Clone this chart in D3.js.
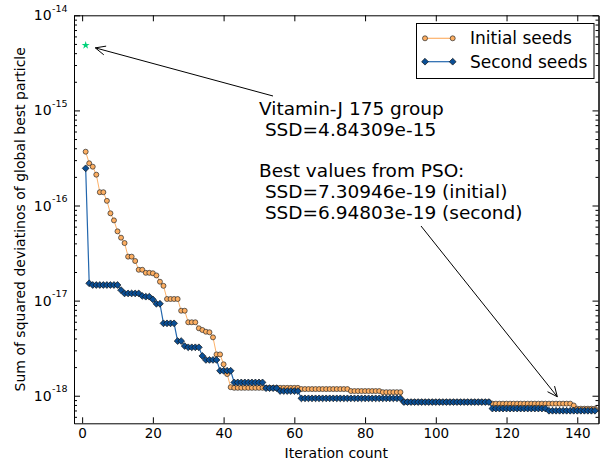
<!DOCTYPE html>
<html>
<head>
<meta charset="utf-8">
<script src="https://cdn.jsdelivr.net/npm/d3@7"></script>
<style>
  html, body { margin: 0; padding: 0; background: #fff; }
  svg { display: block; font-family: "DejaVu Sans", sans-serif; }
</style>
</head>
<body>
<svg id="chart" width="600" height="466"></svg>
<script>
// ---------------- DATA ----------------
const iterations = [
  1,2,3,4,5,6,7,8,9,10,11,12,13,14,15,16,17,18,19,20,
  21,22,23,24,25,26,27,28,29,30,31,32,33,34,35,36,37,38,39,40,
  41,42,43,44,45,46,47,48,49,50,51,52,53,54,55,56,57,58,59,60,
  61,62,63,64,65,66,67,68,69,70,71,72,73,74,75,76,77,78,79,80,
  81,82,83,84,85,86,87,88,89,90,91,92,93,94,95,96,97,98,99,100,
  101,102,103,104,105,106,107,108,109,110,111,112,113,114,115,116,117,118,119,120,
  121,122,123,124,125,126,127,128,129,130,131,132,133,134,135,136,137,138,139,140,
  141,142,143,144,145
];

const initialSeeds = [
  3.68e-16, 2.78e-16, 2.56e-16, 2.11e-16, 1.38e-16, 1.38e-16, 1.12e-16, 8.28e-17, 6.98e-17, 5.35e-17,
  4.59e-17, 4.03e-17, 2.90e-17, 2.90e-17, 2.61e-17, 2.11e-17, 2.11e-17, 1.96e-17, 1.96e-17, 1.94e-17,
  1.84e-17, 1.58e-17, 1.43e-17, 1.04e-17, 1.04e-17, 1.04e-17, 1.04e-17, 7.83e-18, 7.83e-18, 5.92e-18,
  5.92e-18, 5.92e-18, 5.12e-18, 4.91e-18, 4.71e-18, 4.65e-18, 4.11e-18, 2.72e-18, 2.72e-18, 2.14e-18,
  1.69e-18, 1.23e-18, 1.21e-18, 1.21e-18, 1.21e-18, 1.21e-18, 1.21e-18, 1.21e-18, 1.21e-18, 1.21e-18,
  1.21e-18, 1.21e-18, 1.21e-18, 1.21e-18, 1.21e-18, 1.21e-18, 1.21e-18, 1.21e-18, 1.21e-18, 1.21e-18,
  1.21e-18, 1.175e-18, 1.175e-18, 1.175e-18, 1.175e-18, 1.175e-18, 1.175e-18, 1.175e-18, 1.175e-18, 1.175e-18,
  1.175e-18, 1.175e-18, 1.175e-18, 1.175e-18, 1.175e-18, 1.12e-18, 1.12e-18, 1.12e-18, 1.12e-18, 1.12e-18,
  1.12e-18, 1.12e-18, 1.12e-18, 1.12e-18, 1.09e-18, 1.09e-18, 1.09e-18, 1.09e-18, 1.09e-18, 1.09e-18,
  8.60e-19, 8.60e-19, 8.60e-19, 8.60e-19, 8.60e-19, 8.60e-19, 8.60e-19, 8.60e-19, 8.60e-19, 8.60e-19,
  8.60e-19, 8.60e-19, 8.60e-19, 8.60e-19, 8.60e-19, 8.60e-19, 8.60e-19, 8.60e-19, 8.60e-19, 8.60e-19,
  8.60e-19, 8.60e-19, 8.60e-19, 8.60e-19, 8.60e-19, 8.26e-19, 8.26e-19, 8.26e-19, 8.26e-19, 8.26e-19,
  8.26e-19, 8.26e-19, 8.26e-19, 8.26e-19, 8.26e-19, 8.26e-19, 8.26e-19, 8.26e-19, 8.26e-19, 8.26e-19,
  8.26e-19, 8.26e-19, 8.26e-19, 8.26e-19, 8.26e-19, 8.26e-19, 8.26e-19, 8.26e-19, 7.90e-19, 7.31e-19,
  7.31e-19, 7.31e-19, 7.31e-19, 7.31e-19, 7.31e-19
];

const secondSeeds = [
  2.46e-16, 1.52e-17, 1.46e-17, 1.46e-17, 1.46e-17, 1.46e-17, 1.46e-17, 1.46e-17, 1.46e-17, 1.46e-17,
  1.29e-17, 1.19e-17, 1.19e-17, 1.19e-17, 1.19e-17, 1.19e-17, 1.12e-17, 1.10e-17, 1.10e-17, 1.03e-17,
  9.27e-18, 9.27e-18, 5.77e-18, 5.77e-18, 5.77e-18, 5.77e-18, 3.76e-18, 3.76e-18, 3.33e-18, 3.23e-18,
  3.23e-18, 3.23e-18, 3.23e-18, 2.62e-18, 2.38e-18, 2.38e-18, 2.38e-18, 2.38e-18, 1.83e-18, 1.83e-18,
  1.83e-18, 1.83e-18, 1.38e-18, 1.38e-18, 1.38e-18, 1.38e-18, 1.38e-18, 1.38e-18, 1.38e-18, 1.38e-18,
  1.38e-18, 1.20e-18, 1.20e-18, 1.20e-18, 1.20e-18, 1.12e-18, 1.12e-18, 1.12e-18, 1.12e-18, 1.12e-18,
  1.12e-18, 9.39e-19, 9.39e-19, 9.39e-19, 9.39e-19, 9.39e-19, 9.39e-19, 9.39e-19, 9.39e-19, 9.39e-19,
  9.39e-19, 9.39e-19, 9.39e-19, 9.39e-19, 9.39e-19, 9.39e-19, 9.39e-19, 9.39e-19, 9.39e-19, 9.39e-19,
  9.39e-19, 9.39e-19, 9.39e-19, 9.39e-19, 9.39e-19, 9.39e-19, 9.39e-19, 9.39e-19, 9.39e-19, 9.39e-19,
  8.58e-19, 8.58e-19, 8.58e-19, 8.58e-19, 8.58e-19, 8.58e-19, 8.58e-19, 8.58e-19, 8.58e-19, 8.58e-19,
  8.58e-19, 8.58e-19, 8.58e-19, 8.58e-19, 8.58e-19, 8.58e-19, 8.58e-19, 8.58e-19, 8.58e-19, 8.58e-19,
  8.58e-19, 8.58e-19, 8.58e-19, 8.58e-19, 8.58e-19, 7.33e-19, 7.33e-19, 7.33e-19, 7.33e-19, 7.33e-19,
  7.33e-19, 7.33e-19, 7.33e-19, 7.33e-19, 7.33e-19, 7.33e-19, 7.33e-19, 7.33e-19, 7.33e-19, 7.33e-19,
  7.33e-19, 6.95e-19, 6.95e-19, 6.95e-19, 6.95e-19, 6.95e-19, 6.95e-19, 6.95e-19, 6.95e-19, 6.95e-19,
  6.95e-19, 6.95e-19, 6.95e-19, 6.95e-19, 6.95e-19
];

const referencePoint = { iteration: 1, value: 4.84309e-15 };

const seriesNames = ["Initial seeds", "Second seeds"];
const xTickValues = [0, 20, 40, 60, 80, 100, 120, 140];
const yMajorExponents = [-14, -15, -16, -17, -18];
const xLabel = "Iteration count";
const yLabel = "Sum of squared deviatinos of global best particle";

const annotation1Lines = ["Vitamin-J 175 group", " SSD=4.84309e-15"];
const annotation2Lines = ["Best values from PSO:", " SSD=7.30946e-19 (initial)", " SSD=6.94803e-19 (second)"];
const arrow2Target = { iteration: 134.35, value: 9.76e-19 };

// ---------------- CHART ----------------
(function () {
const svg = d3.select("#chart");
const pL = 74, pR = 598.5, pT = 15.3, pB = 423.3;

const x = d3.scaleLinear().domain([-2.3, 146]).range([pL, pR]);
const y = d3.scaleLog().domain([5.13e-19, 1e-14]).range([pB, pT]);

const colOrangeFill = "#fdae61", colOrangeLine = "#fdb26a";
const colBlueFill = "#0a4f96", colBlueLine = "#2266ad";

const yMinor = [];
for (let e = -19; e <= -15; e++) {
  for (let m = 2; m <= 9; m++) {
    const v = m * Math.pow(10, e);
    if (v >= y.domain()[0] && v <= y.domain()[1]) yMinor.push(v);
  }
}
const yMajor = yMajorExponents.map(e => Math.pow(10, e));

const axes = svg.append("g").attr("class", "axes");

function styleAxis(g) {
  g.selectAll("path.domain").attr("stroke", "#000").attr("stroke-width", 1);
  g.selectAll(".tick line").attr("stroke", "#000").attr("stroke-width", 1);
}

axes.append("g").attr("transform", `translate(0,${pB})`)
  .call(d3.axisBottom(x).tickValues(xTickValues).tickSizeInner(-6).tickSizeOuter(0).tickPadding(5.5))
  .call(styleAxis)
  .call(g => g.selectAll("text").attr("font-size", 13.5).attr("fill", "#000")
    .attr("font-family", "DejaVu Sans"));
axes.append("g").attr("transform", `translate(0,${pT})`)
  .call(d3.axisTop(x).tickValues(xTickValues).tickSizeInner(-6).tickSizeOuter(0).tickFormat(""))
  .call(styleAxis);
axes.append("g").attr("transform", `translate(${pL},0)`)
  .call(d3.axisLeft(y).tickValues(yMinor).tickSizeInner(-3).tickSizeOuter(0).tickFormat(""))
  .call(styleAxis);
axes.append("g").attr("transform", `translate(${pL},0)`)
  .call(d3.axisLeft(y).tickValues(yMajor).tickSizeInner(-6).tickSizeOuter(0).tickFormat(""))
  .call(styleAxis);
axes.append("g").attr("transform", `translate(${pR},0)`)
  .call(d3.axisRight(y).tickValues(yMinor).tickSizeInner(-3).tickSizeOuter(0).tickFormat(""))
  .call(styleAxis);
axes.append("g").attr("transform", `translate(${pR},0)`)
  .call(d3.axisRight(y).tickValues(yMajor).tickSizeInner(-6).tickSizeOuter(0).tickFormat(""))
  .call(styleAxis);

yMajorExponents.forEach(e => {
  const yy = y(Math.pow(10, e));
  svg.append("text")
    .attr("x", 51.7).attr("y", yy + 5)
    .attr("text-anchor", "end")
    .attr("font-size", 14).attr("fill", "#000")
    .text("10");
  svg.append("text")
    .attr("x", 52).attr("y", yy - 3.5)
    .attr("font-size", 9.5).attr("fill", "#000")
    .text(String(e));
});

svg.append("text")
  .attr("x", (pL + pR) / 2).attr("y", 458)
  .attr("text-anchor", "middle")
  .attr("font-size", 14).attr("fill", "#000")
  .text(xLabel);
svg.append("text")
  .attr("transform", `translate(24.5,${(pT + pB) / 2}) rotate(-90)`)
  .attr("text-anchor", "middle")
  .attr("font-size", 14).attr("fill", "#000")
  .text(yLabel);

const plot = svg.append("g");
const diamond = r => `M0,${-r}L${r},0L0,${r}L${-r},0Z`;

function drawSeries(values, lineColor, lineWidth, drawMarker) {
  const pts = iterations.map((it, i) => [x(it), y(values[i])]);
  plot.append("path")
    .attr("d", d3.line()(pts))
    .attr("fill", "none").attr("stroke", lineColor).attr("stroke-width", lineWidth);
  const g = plot.append("g");
  pts.forEach(p => drawMarker(g, p[0], p[1]));
}
const orangeMarker = (g, cx, cy) => g.append("circle").attr("cx", cx).attr("cy", cy).attr("r", 2.5)
  .attr("fill", colOrangeFill).attr("stroke", "#2a2a2a").attr("stroke-width", 0.7);
const blueMarker = (g, cx, cy) => g.append("path").attr("transform", `translate(${cx},${cy})`)
  .attr("d", diamond(3.4))
  .attr("fill", colBlueFill).attr("stroke", "#111").attr("stroke-width", 0.7);

drawSeries(initialSeeds, colOrangeLine, 1, orangeMarker);
drawSeries(secondSeeds, colBlueLine, 1.2, blueMarker);

plot.append("path")
  .attr("transform", `translate(${x(referencePoint.iteration)},${y(referencePoint.value)})`)
  .attr("d", d3.symbol(d3.symbolStar).size(20)())
  .attr("fill", "#00d27a");

function arrow(x1, y1, x2, y2) {
  const g = svg.append("g").attr("stroke", "#000").attr("stroke-width", 1).attr("fill", "none");
  g.append("line").attr("x1", x1).attr("y1", y1).attr("x2", x2).attr("y2", y2);
  const ang = Math.atan2(y2 - y1, x2 - x1);
  const L = 10, W = 4.5;
  const bx = x2 - L * Math.cos(ang), by = y2 - L * Math.sin(ang);
  const nx = -Math.sin(ang), ny = Math.cos(ang);
  g.append("path").attr("d",
    `M${bx + nx * W},${by + ny * W}L${x2},${y2}L${bx - nx * W},${by - ny * W}`);
}
{
  const sx = x(referencePoint.iteration), sy = y(referencePoint.value);
  const ex = 273, ey = 96;
  const ang = Math.atan2(sy - ey, sx - ex);
  arrow(ex, ey, sx - 10 * Math.cos(ang), sy - 10 * Math.sin(ang));
}
arrow(421, 226, x(arrow2Target.iteration), y(arrow2Target.value));

const ann = svg.append("g").attr("font-size", 18.5).attr("fill", "#000");
ann.append("text").attr("x", 259).attr("y", 114.5).attr("xml:space", "preserve").text(annotation1Lines[0]);
ann.append("text").attr("x", 259).attr("y", 135.5).attr("xml:space", "preserve").text(annotation1Lines[1]);
ann.append("text").attr("x", 259).attr("y", 177).attr("xml:space", "preserve").text(annotation2Lines[0]);
ann.append("text").attr("x", 259).attr("y", 198).attr("xml:space", "preserve").text(annotation2Lines[1]);
ann.append("text").attr("x", 259).attr("y", 219).attr("xml:space", "preserve").text(annotation2Lines[2]);

const lg = svg.append("g");
lg.append("rect").attr("x", 416.5).attr("y", 23.5).attr("width", 177.5).attr("height", 55)
  .attr("fill", "#fff").attr("stroke", "#000").attr("stroke-width", 1);
const legendRows = [
  { name: seriesNames[0], y: 38.3, line: colOrangeLine, marker: orangeMarker },
  { name: seriesNames[1], y: 61.7, line: colBlueLine, marker: blueMarker }
];
legendRows.forEach(r => {
  lg.append("line").attr("x1", 425).attr("x2", 452.7).attr("y1", r.y).attr("y2", r.y)
    .attr("stroke", r.line).attr("stroke-width", 1.2);
  r.marker(lg, 425, r.y);
  r.marker(lg, 452.7, r.y);
  lg.append("text").attr("x", 470).attr("y", r.y + 5.8).attr("font-size", 17).attr("fill", "#000").text(r.name);
});
})();
</script>
</body>
</html>
